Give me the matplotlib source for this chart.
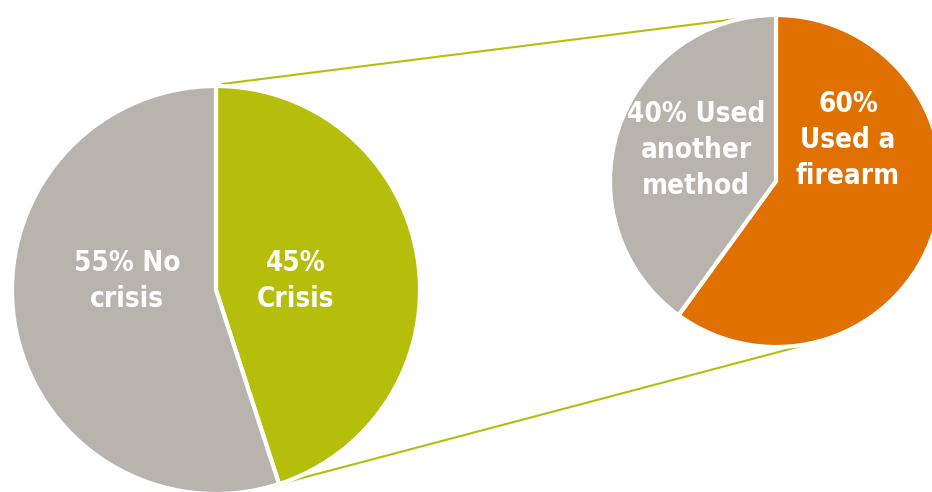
import numpy as np
import matplotlib.pyplot as plt

# left pie: crisis vs no crisis
left_labels = ['45%\nCrisis', '55% No\ncrisis']
left_values = [45, 55]
left_colors = ['#B6BE0C', '#B8B3AD']

# right pie: method among crisis cases
right_labels = ['60%\nUsed a\nfirearm', '40% Used\nanother\nmethod']
right_values = [60, 40]
right_colors = ['#E07000', '#B8B3AD']

W, H = 932, 492
fig = plt.figure(figsize=(W / 100, H / 100), dpi=100)
ax = fig.add_axes([0, 0, 1, 1])

font = dict(family=['DejaVu Sans'], weight='bold', stretch='condensed',
            size=20, color='white', ha='center', va='center', linespacing=1.35)

lc, lr = (216, 202), 204
rc, rr = (776, 311), 166

for vals, cols, c, r in [(left_values, left_colors, lc, lr),
                         (right_values, right_colors, rc, rr)]:
    wedges, _ = ax.pie(vals, colors=cols, startangle=90, counterclock=False,
                       center=c, radius=r, frame=True,
                       wedgeprops=dict(edgecolor='white', linewidth=3))
    for w in wedges:
        w.set_zorder(2)

ax.set_xlim(0, W)
ax.set_ylim(0, H)
ax.set_aspect('equal')
ax.axis('off')

# connector lines
end_ang = np.deg2rad(90 - 360 * left_values[0] / sum(left_values))
p1 = (lc[0] + 6, lc[1] + lr + 2)
q1 = (rc[0], rc[1] + rr + 1)
p2 = (lc[0] + lr * np.cos(end_ang), lc[1] + lr * np.sin(end_ang))
a2 = np.deg2rad(-76)
q2 = (rc[0] + rr * np.cos(a2), rc[1] + rr * np.sin(a2))
ax.plot([p1[0], q1[0]], [p1[1], q1[1]], color='#B6BE0C', lw=1.5, zorder=1)
ax.plot([p2[0], q2[0]], [p2[1], q2[1]], color='#B6BE0C', lw=1.5, zorder=1)

ax.text(127, H - 281, left_labels[1], zorder=3, **font)
ax.text(296, H - 281, left_labels[0], zorder=3, **font)
ax.text(696, H - 150, right_labels[1], zorder=3, **font)
ax.text(848, H - 140, right_labels[0], zorder=3, **font)

fig.savefig('out.png', dpi=100)
